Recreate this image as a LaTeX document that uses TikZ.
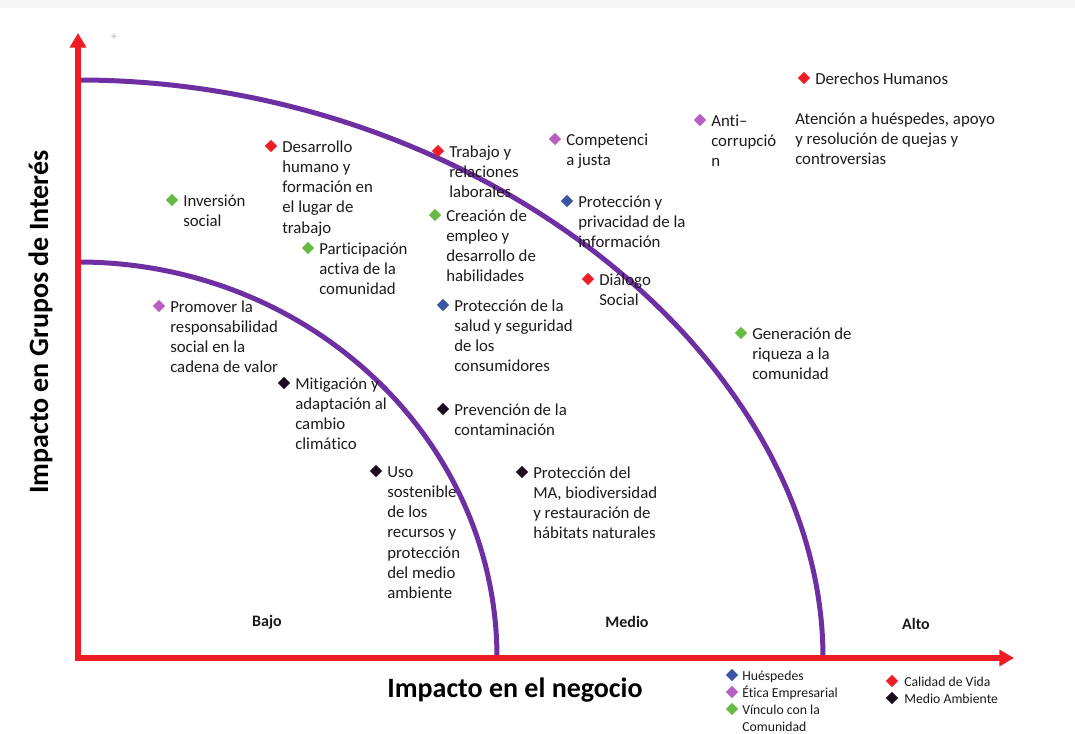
\documentclass[tikz,border=0pt]{standalone}
\usepackage{fontspec}
\setmainfont[Ligatures=CommonOff]{Carlito}
\usetikzlibrary{shapes.geometric,arrows.meta}

\definecolor{rojo}{HTML}{EE1D25}
\definecolor{rosa}{HTML}{B85EC0}
\definecolor{verde}{HTML}{66BB44}
\definecolor{azul}{HTML}{3A54A6}
\definecolor{negro}{HTML}{1A0C1A}
\definecolor{morado}{HTML}{6E2FA2}
\definecolor{texto}{HTML}{1E1A1C}

\tikzset{
  rombo/.style={diamond, inner sep=0pt, minimum size=9.5pt},
  tema/.style={anchor=north west, align=left, inner sep=0pt, text=texto,
    font=\fontsize{12.6}{15.15}\selectfont},
  leyenda/.style={anchor=north west, align=left, inner sep=0pt, text=texto,
    font=\fontsize{10.3}{12.7}\selectfont},
  nivel/.style={inner sep=0pt, text=texto, font=\fontsize{12}{14}\selectfont\bfseries},
  titulo/.style={inner sep=0pt, text=black, font=\fontsize{21}{25}\selectfont\bfseries},
  eje/.style={draw=rojo, line width=4.5pt, line join=miter},
  arco/.style={draw=morado, line width=3.75pt},
}

\begin{document}
\begin{tikzpicture}[x=0.75pt, y=-0.75pt]
    \useasboundingbox (0,0) rectangle (1075,734);
    \fill[gray!7] (0,0) rectangle (1075,8);
    \node[text=gray!60, font=\fontsize{9}{9}\selectfont, inner sep=0pt] (marca) at (114,37) {+};

    % ejes y arcos
    \coordinate (ytop) at (78,33);
    \coordinate (origen) at (78,658);
    \coordinate (xtop) at (1014,658);
    \coordinate (a1) at (78,262);
    \coordinate (b1) at (497,658);
    \coordinate (a2) at (78,80);
    \coordinate (b2) at (823,658);

    \draw[arco] (a1) arc[start angle=-90, end angle=0, x radius=419, y radius=396];
    \draw[arco] (a2) .. controls +(400,0) and +(0,-300) .. (b2);
    \draw[eje, {Triangle[length=11pt,width=12pt]}-{Triangle[length=11pt,width=12pt]}]
        (ytop) -- (origen) -- (xtop);

    \node[titulo, rotate=90, anchor=base] (tituloY) at (48,322) {Impacto en Grupos de Interés};
    \node[titulo, anchor=base] (tituloX) at (515,697) {Impacto en el negocio};

    \node[nivel] (bajo) at (267,622) {Bajo};
    \node[nivel] (medio) at (627,622) {Medio};
    \node[nivel] (alto) at (916,624) {Alto};

    % temas materiales (el texto empieza con \strut: su borde de arriba queda 14px sobre la base)
    \foreach \x/\y/\col/\texto [count=\i] in {
        271/146/rojo/{Desarrollo\\humano y\\formación en\\el lugar de\\trabajo},
        172/200/verde/{Inversión\\social},
        308/248/verde/{Participación\\activa de la\\comunidad},
        159/306/rosa/{Promover la\\responsabilidad\\social en la\\cadena de valor},
        284/383/negro/{Mitigación y\\adaptación al\\cambio\\climático},
        376/471/negro/{Uso\\sostenible\\de los\\recursos y\\protección\\del medio\\ambiente},
        438/151/rojo/{Trabajo y\\relaciones\\laborales},
        435/215/verde/{Creación de\\empleo y\\desarrollo de\\habilidades},
        443/305/azul/{Protección de la\\salud y seguridad\\de los\\consumidores},
        443/409/negro/{Prevención de la\\contaminación},
        522/472/negro/{Protección del\\MA, biodiversidad\\y restauración de\\hábitats naturales},
        555/139/rosa/{Competenci\\a justa},
        567/201/azul/{Protección y\\privacidad de la\\información},
        588/279/rojo/{Diálogo\\Social},
        700/120/rosa/{Anti–\\corrupció\\n},
        804/78/rojo/{Derechos Humanos},
        741/333/verde/{Generación de\\riqueza a la\\comunidad}}
    {
        \node[rombo, fill=\col] (r\i) at (\x,\y) {};
        \node[tema] (t\i) at (\x+11,\y-8.1) {\strut\texto};
    }
    \node[tema] (atencion) at (795,109.9) {\strut Atención a huéspedes, apoyo\\y resolución de quejas y\\controversias};

    % leyenda
    \node[rombo, fill=azul] (lHue) at (732,675) {};
    \node[rombo, fill=rosa] (lEti) at (732,692) {};
    \node[rombo, fill=verde] (lVin) at (732,709) {};
    \node[rombo, fill=rojo] (lCal) at (892,681) {};
    \node[rombo, fill=negro] (lMed) at (892,698) {};
    \node[leyenda] (tHue) at (742,668.2) {\strut Huéspedes};
    \node[leyenda] (tEti) at (742,685.2) {\strut Ética Empresarial};
    \node[leyenda] (tVin) at (742,702.2) {\strut Vínculo con la\\Comunidad};
    \node[leyenda] (tCal) at (904,674.2) {\strut Calidad de Vida};
    \node[leyenda] (tMed) at (904,691.2) {\strut Medio Ambiente};
\end{tikzpicture}
\end{document}
